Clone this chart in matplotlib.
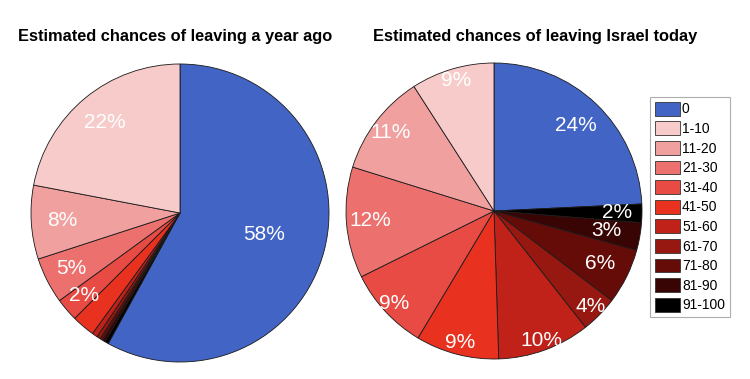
import numpy as np
import matplotlib
matplotlib.use('Agg')
import matplotlib.pyplot as plt
from matplotlib.patches import Patch

plt.rcParams['font.family'] = ['Liberation Sans', 'DejaVu Sans']

categories = ['0', '1-10', '11-20', '21-30', '31-40', '41-50',
              '51-60', '61-70', '71-80', '81-90', '91-100']
colors = ['#4264C4', '#F8CBCB', '#F0A09E', '#EC716E', '#E84A44', '#E8321F',
          '#C0221A', '#961810', '#660C08', '#380404', '#000000']

year_ago = [58, 22, 8, 5, 2.5, 2.5, 0.6, 0.4, 0.3, 0.3, 0.4]
year_ago_labels = ['58%', '22%', '8%', '5%', '2%', '', '', '', '', '', '']
today = [24, 9, 11, 12, 9, 9, 10, 4, 6, 3, 2]
today_labels = ['24%', '9%', '11%', '12%', '9%', '9%', '10%', '4%', '6%', '3%', '2%']

# label distance (fraction of radius), per slice
year_ago_rad = [0.58, 0.79, 0.79, 0.82, 0.85, 0, 0, 0, 0, 0, 0]
today_rad = [0.8, 0.92, 0.88, 0.84, 0.92, 0.92, 0.93, 0.92, 0.8, 0.77, 0.83]

W, H = 750, 379
fig = plt.figure(figsize=(7.5, 3.79), dpi=100)


def draw_pie(cx, cy, r, vals, labels, rads):
    ax = fig.add_axes([(cx - r) / W, (H - cy - r) / H, 2 * r / W, 2 * r / H])
    # order: 0 first, then clockwise from 91-100 down to 1-10
    order = [0] + list(range(len(vals) - 1, 0, -1))
    v = [vals[i] for i in order]
    c = [colors[i] for i in order]
    wedges, _ = ax.pie(v, colors=c, startangle=90, counterclock=False, radius=1,
                       wedgeprops=dict(edgecolor='#1a1a1a', linewidth=0.6))
    for w, i in zip(wedges, order):
        if not labels[i]:
            continue
        ang = np.deg2rad((w.theta1 + w.theta2) / 2)
        d = rads[i]
        ax.text(d * np.cos(ang), d * np.sin(ang), labels[i], color='white',
                fontsize=15, ha='center', va='center')
    ax.set_xlim(-1.0, 1.0)
    ax.set_ylim(-1.0, 1.0)
    ax.set_aspect('equal')
    ax.axis('off')
    return ax


draw_pie(180, 213, 149, year_ago, year_ago_labels, year_ago_rad)
draw_pie(494, 211, 148, today, today_labels, today_rad)

fig.text(18 / W, 1 - 36 / H, 'Estimated chances of leaving a year ago',
         fontsize=11.8, fontweight='bold', ha='left', va='center')
fig.text(373 / W, 1 - 36 / H, 'Estimated chances of leaving Israel today',
         fontsize=11.8, fontweight='bold', ha='left', va='center')

handles = [Patch(facecolor=col, edgecolor='#333333', linewidth=0.6) for col in colors]
leg = fig.legend(handles, categories, loc='upper left',
                 bbox_to_anchor=(650 / W, 1 - 97 / H), fontsize=10,
                 frameon=True, fancybox=False, edgecolor='#999999',
                 handlelength=1.8, handleheight=1.15, handletextpad=0.15,
                 labelspacing=0.36, borderpad=0.35, borderaxespad=0)
leg.get_frame().set_linewidth(0.8)

fig.savefig('out.png', dpi=100, facecolor='white')
